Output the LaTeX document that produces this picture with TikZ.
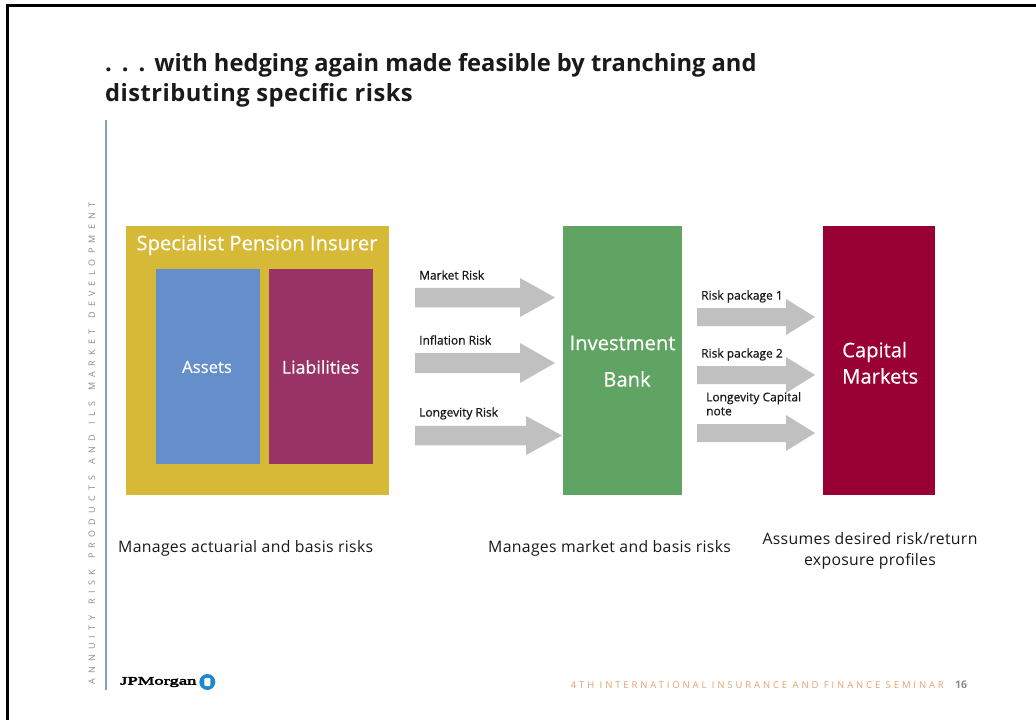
\documentclass[tikz,border=0pt]{standalone}
\usepackage{fontspec}
\setmainfont{Open Sans}
\newfontfamily\logofont[FakeBold=4,FakeStretch=1.62]{Liberation Serif}
\definecolor{cyellow}{HTML}{D6B936}
\definecolor{cblue}{HTML}{648FCB}
\definecolor{cpurple}{HTML}{993366}
\definecolor{cgreen}{HTML}{5FA463}
\definecolor{cred}{HTML}{990033}
\definecolor{carrow}{HTML}{C0C0C0}
\definecolor{crule}{HTML}{84A0C6}
\definecolor{corange}{HTML}{E3A36F}
\definecolor{cgreytext}{HTML}{8A8A8A}
\definecolor{cink}{HTML}{1A1A1A}
\definecolor{clogo}{HTML}{1E88D0}
\newcommand{\fsz}[1]{\fontsize{#1}{#1}\selectfont}
\newcommand{\blockarrow}[6]{\fill[carrow] (#1,#5-#6/2) -- (#2,#5-#6/2) -- (#2,#5-#6*1) -- (#3,#5) -- (#2,#5+#6*1) -- (#2,#5+#6/2) -- (#1,#5+#6/2) -- cycle;}
\tikzset{
 box/.style={draw=none,anchor=north west,inner sep=0pt,text=white,align=center},
 boxlabel/.style={text=white,inner sep=0pt,align=center,font=\fsz{20.2}\addfontfeature{FakeBold=0.5}},
 arrowlabel/.style={anchor=west,inner sep=0pt,text=cink,font=\fontsize{12}{14}\selectfont\addfontfeature{FakeBold=0.7},align=left},
 bodytext/.style={inner sep=0pt,text=cink,font=\fontsize{15.8}{21}\selectfont\addfontfeature{LetterSpace=2},align=center},
}
\begin{document}
\begin{tikzpicture}[x=1pt,y=-1pt]
\useasboundingbox (0,0) rectangle (1036,720);
\fill[white] (0,0) rectangle (1036,720);
% slide frame
\fill[black] (6,4) rectangle (1036,6.5);
\fill[black] (6,4) rectangle (8.5,720);
% title
\node[anchor=north west,inner sep=0pt,text=cink,font=\fontsize{23.7}{30}\selectfont\bfseries,align=left] (title) at (105,53) {.\hspace{10pt}.\hspace{10pt}.\hspace{9pt}with hedging again made feasible by tranching and\\{\addfontfeature{LetterSpace=2}distributing specific risks}};
% side rule + text
\coordinate (ruletop) at (105.5,120);
\coordinate (rulebot) at (105.5,690);
\draw[crule,line width=2pt] (ruletop) -- (rulebot);
\node[rotate=90,anchor=west,inner sep=0pt,text=cgreytext,font=\fsz{9}\addfontfeature{LetterSpace=58}] (side) at (92,685) {\spaceskip=11pt ANNUITY RISK PRODUCTS AND ILS MARKET DEVELOPMENT};
% boxes
\node[box,fill=cyellow,minimum width=263pt,minimum height=269pt] (insurer) at (126,226) {};
\node[boxlabel] (insurerlabel) at (257,245) {Specialist Pension Insurer};
\node[box,fill=cblue,minimum width=104pt,minimum height=195pt] (assets) at (156,269) {};
\node[boxlabel,font=\fsz{16.7}\addfontfeature{FakeBold=0.5}] (assetslabel) at (207,367) {Assets};
\node[box,fill=cpurple,minimum width=104pt,minimum height=195pt] (liab) at (269,269) {};
\node[boxlabel,font=\fsz{17.8}\addfontfeature{FakeBold=0.5}] (liablabel) at (320.5,367) {Liabilities};
\node[box,fill=cgreen,minimum width=119pt,minimum height=269pt] (bank) at (563,226) {};
\node[boxlabel] (banklabel1) at (622.5,343) {Investment};
\node[boxlabel] (banklabel2) at (627,379) {Bank};
\node[box,fill=cred,minimum width=112pt,minimum height=269pt] (cap) at (823,226) {};
\node[boxlabel,anchor=west] (caplabel1) at (842,352) {Capital};
\node[boxlabel,anchor=west] (caplabel2) at (842,376) {Markets};
% arrows
\blockarrow{415}{520}{555}{0}{297.5}{19.5}
\blockarrow{415}{520}{555}{0}{363}{20}
\blockarrow{415}{526}{562}{0}{435.5}{19.5}
\blockarrow{697}{786}{815}{0}{317}{18}
\blockarrow{697}{786}{815}{0}{375}{18}
\blockarrow{697}{786}{815}{0}{433}{18}
% arrow labels
\node[arrowlabel] (l1) at (419,275) {Market Risk};
\node[arrowlabel] (l2) at (419,340) {Inflation Risk};
\node[arrowlabel] (l3) at (419,413.5) {Longevity Risk};
\node[arrowlabel] (r1) at (701,296.5) {Risk package 1};
\node[arrowlabel] (r2) at (701,354.5) {Risk package 2};
\node[arrowlabel,anchor=north west] (r3) at (706,392) {Longevity Capital\\note};
% captions
\node[bodytext,anchor=west] (c1) at (118,548) {Manages actuarial and basis risks};
\node[bodytext,anchor=west] (c2) at (488,548) {Manages market and basis risks};
\node[bodytext] (c3) at (870,551) {Assumes desired risk/return\\exposure profiles};
% logo
\node[anchor=west,inner sep=0pt,font=\fsz{11.5}\logofont,text=black] (logo) at (120,682) {JPMorgan};
\fill[clogo] (207.3,682) circle (8);
\fill[white,rounded corners=1pt] (204.3,678) rectangle (210.3,686);
% footer
\node[anchor=east,inner sep=0pt,text=corange,font=\fsz{9.5}\addfontfeature{LetterSpace=30.4}] (foot) at (944,685) {4TH INTERNATIONAL INSURANCE AND FINANCE SEMINAR};
\node[anchor=west,inner sep=0pt,text=cgreytext,font=\fsz{10.5}\bfseries] (page) at (955,685) {16};
\end{tikzpicture}
\end{document}
